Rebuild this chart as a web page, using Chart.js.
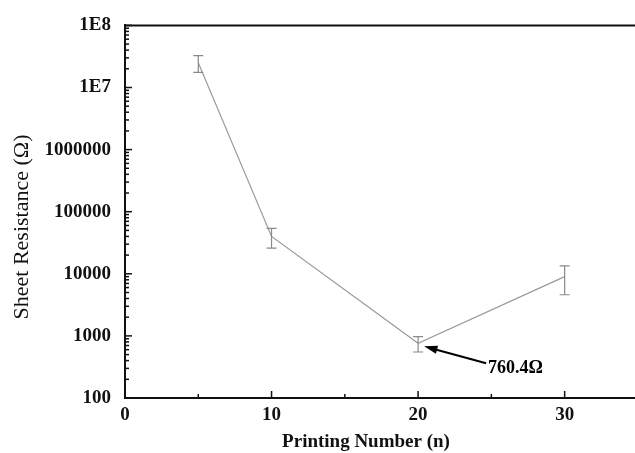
<!DOCTYPE html>
<html lang="en">
<head>
    <meta charset="UTF-8">
    <title>Sheet Resistance</title>
    <script src="https://cdn.jsdelivr.net/npm/chart.js@4.4.0/dist/chart.umd.min.js"></script>
    <style>
        html, body {
            margin: 0;
            padding: 0;
            background: #fff;
        }
        #box {
            width: 635px;
            height: 453px;
        }
    </style>
</head>
<body>
    <div id="box">
        <canvas id="resChart"></canvas>
    </div>

    <script>
        // dados
        const printNum = [5, 10, 20, 30];
        const resistance = [2.5e7, 4.0e4, 760.4, 9000];
        const resErr = [0.75e7, 1.4e4, 210, 4400];

        const yTickVals = [100, 1000, 10000, 100000, 1000000, 1e7, 1e8];
        const yTickLabels = ['100', '1000', '10000', '100000', '1000000', '1E7', '1E8'];
        const xTickVals = [0, 5, 10, 15, 20, 25, 30];
        const xTickLabels = ['0', '', '10', '', '20', '', '30'];

        const noteIndex = 2;
        const noteText = '760.4\u03A9';

        const serif = '"Liberation Serif", "Times New Roman", serif';

        // barras de erro, ticks internos, borda superior, títulos e anotação
        const extras = {
            id: 'extras',
            afterDatasetsDraw(chart) {
                const ctx = chart.ctx;
                const xs = chart.scales.x;
                const ys = chart.scales.y;
                const area = chart.chartArea;

                ctx.save();
                // barras de erro
                ctx.strokeStyle = '#8a8a8a';
                ctx.lineWidth = 1.2;
                printNum.forEach((n, i) => {
                    const px = xs.getPixelForValue(n);
                    const top = ys.getPixelForValue(resistance[i] + resErr[i]);
                    const bot = ys.getPixelForValue(resistance[i] - resErr[i]);
                    ctx.beginPath();
                    ctx.moveTo(px, top); ctx.lineTo(px, bot);
                    ctx.moveTo(px - 5, top); ctx.lineTo(px + 5, top);
                    ctx.moveTo(px - 5, bot); ctx.lineTo(px + 5, bot);
                    ctx.stroke();
                });

                // borda superior
                ctx.strokeStyle = '#111';
                ctx.lineWidth = 2;
                ctx.beginPath();
                ctx.moveTo(area.left - 1, area.top);
                ctx.lineTo(chart.width, area.top);
                ctx.stroke();

                // ticks do eixo x (para dentro)
                ctx.lineWidth = 1.5;
                xTickVals.forEach((v, i) => {
                    const px = xs.getPixelForValue(v);
                    const len = xTickLabels[i] ? 7 : 4;
                    ctx.beginPath();
                    ctx.moveTo(px, area.bottom);
                    ctx.lineTo(px, area.bottom - len);
                    ctx.stroke();
                });

                // ticks do eixo y (maiores e menores)
                yTickVals.forEach((v, i) => {
                    const py = ys.getPixelForValue(v);
                    ctx.beginPath();
                    ctx.moveTo(area.left, py);
                    ctx.lineTo(area.left + 7, py);
                    ctx.stroke();
                    if (i < yTickVals.length - 1) {
                        for (let m = 2; m <= 9; m++) {
                            const my = ys.getPixelForValue(v * m);
                            ctx.beginPath();
                            ctx.moveTo(area.left, my);
                            ctx.lineTo(area.left + 4, my);
                            ctx.stroke();
                        }
                    }
                });

                // anotação com seta
                const tx = xs.getPixelForValue(printNum[noteIndex]) + 6;
                const ty = ys.getPixelForValue(resistance[noteIndex]) + 3;
                const sx = tx + 62;
                const sy = ty + 17;
                const ang = Math.atan2(ty - sy, tx - sx);
                ctx.strokeStyle = '#000';
                ctx.fillStyle = '#000';
                ctx.lineWidth = 2;
                ctx.beginPath();
                ctx.moveTo(sx, sy);
                ctx.lineTo(tx + 10 * Math.cos(ang + Math.PI) , ty + 10 * Math.sin(ang + Math.PI));
                ctx.stroke();
                ctx.beginPath();
                ctx.moveTo(tx, ty);
                ctx.lineTo(tx - 14 * Math.cos(ang - 0.3), ty - 14 * Math.sin(ang - 0.3));
                ctx.lineTo(tx - 14 * Math.cos(ang + 0.3), ty - 14 * Math.sin(ang + 0.3));
                ctx.closePath();
                ctx.fill();

                ctx.font = 'bold 18px ' + serif;
                ctx.textAlign = 'left';
                ctx.textBaseline = 'middle';
                ctx.fillText(noteText, sx + 2, sy + 5);

                // título do eixo x
                ctx.fillStyle = '#111';
                ctx.font = 'bold 19px ' + serif;
                ctx.textAlign = 'center';
                ctx.textBaseline = 'alphabetic';
                ctx.fillText('Printing Number (n)', area.left + 241, chart.height - 6);

                // título do eixo y
                ctx.translate(28, 227);
                ctx.rotate(-Math.PI / 2);
                ctx.font = '22px ' + serif;
                ctx.fillText('Sheet Resistance (\u03A9)', 0, 0);
                ctx.restore();
            }
        };

        const ctx = document.getElementById('resChart').getContext('2d');

        const resChart = new Chart(ctx, {
            type: 'line',
            data: {
                datasets: [{
                    data: printNum.map((n, i) => ({ x: n, y: resistance[i] })),
                    borderColor: '#9a9a9a',
                    borderWidth: 1.2,
                    pointRadius: 0,
                    fill: false,
                    tension: 0
                }]
            },
            options: {
                responsive: true,
                maintainAspectRatio: false,
                animation: false,
                layout: {
                    padding: { top: 20, right: 0, bottom: 0, left: 0 }
                },
                plugins: {
                    legend: { display: false },
                    tooltip: { enabled: false }
                },
                scales: {
                    x: {
                        type: 'linear',
                        min: 0,
                        max: 34.8,
                        grid: { display: false, drawTicks: false },
                        border: { display: true, color: '#111', width: 2 },
                        afterBuildTicks: scale => {
                            scale.ticks = xTickVals.map(v => ({ value: v }));
                        },
                        afterFit: scale => { scale.height = 55; },
                        ticks: {
                            autoSkip: false,
                            maxRotation: 0,
                            padding: 6,
                            color: '#111',
                            font: { family: serif, size: 19, weight: 'bold' },
                            callback: (v, i) => xTickLabels[i]
                        }
                    },
                    y: {
                        type: 'logarithmic',
                        min: 100,
                        max: 1e8,
                        grid: { display: false, drawTicks: false },
                        border: { display: true, color: '#111', width: 2 },
                        afterBuildTicks: scale => {
                            scale.ticks = yTickVals.map(v => ({ value: v }));
                        },
                        afterFit: scale => { scale.width = 125; },
                        ticks: {
                            autoSkip: false,
                            padding: 14,
                            color: '#111',
                            font: { family: serif, size: 19, weight: 'bold' },
                            callback: (v, i) => yTickLabels[i]
                        }
                    }
                }
            },
            plugins: [extras]
        });
    </script>
</body>
</html>
